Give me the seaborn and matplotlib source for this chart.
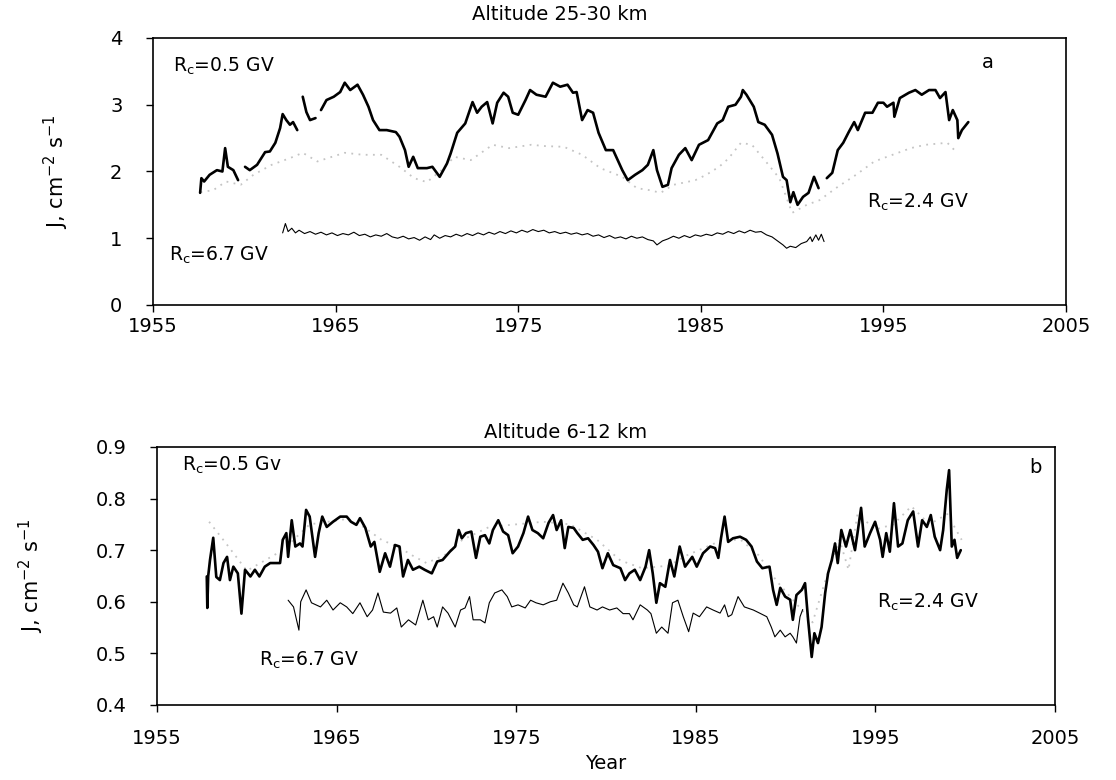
import numpy as np
import pandas as pd
import matplotlib
matplotlib.use("Agg")
import matplotlib.pyplot as plt
import seaborn as sns

nan = np.nan

# ---------------- Panel a: Altitude 25-30 km ----------------
a_hi_year = [1957.58, 1957.65, 1957.8, 1958.1, 1958.5, 1958.8, 1958.95, 1959.1, 1959.4, 1959.66, 1959.85,
             1960.04, 1960.3, 1960.7, 1961.14, 1961.4, 1961.7, 1961.96, 1962.1, 1962.3, 1962.5, 1962.67, 1962.9, 1963.05,
             1963.2, 1963.4, 1963.6, 1963.9, 1964.05,
             1964.2, 1964.5, 1964.9, 1965.25, 1965.5, 1965.8, 1966.2, 1966.5, 1966.8, 1967.05, 1967.4, 1967.8,
             1968.3, 1968.5, 1968.8, 1969.0, 1969.25, 1969.5, 1970.0, 1970.3, 1970.7, 1971.1, 1971.3, 1971.66,
             1972.1, 1972.5, 1972.75, 1973.0, 1973.3, 1973.6, 1973.85, 1974.2, 1974.45, 1974.7, 1975.0, 1975.4,
             1975.65, 1976.0, 1976.5, 1976.9, 1977.3, 1977.7, 1978.0, 1978.2, 1978.5, 1978.8, 1979.1, 1979.4,
             1979.8, 1980.2, 1980.7, 1981.0, 1981.4, 1981.8, 1982.1, 1982.4, 1982.6, 1982.9, 1983.2, 1983.4,
             1983.8, 1984.15, 1984.5, 1984.9, 1985.4, 1985.9, 1986.2, 1986.5, 1986.9, 1987.2, 1987.3, 1987.5,
             1987.9, 1988.15, 1988.5, 1988.9, 1989.2, 1989.5, 1989.7, 1989.9, 1990.07, 1990.3, 1990.6, 1990.9,
             1991.2, 1991.45, 1991.7,
             1991.9, 1992.2, 1992.5, 1992.8, 1993.1, 1993.4, 1993.6, 1994.0, 1994.4, 1994.7, 1995.0, 1995.2,
             1995.55, 1995.6, 1995.9, 1996.4, 1996.75, 1997.1, 1997.5, 1997.85, 1998.1, 1998.4, 1998.6, 1998.8,
             1999.05, 1999.1, 1999.3, 1999.65]
a_hi_val = [1.68, 1.90, 1.85, 1.95, 2.02, 2.00, 2.35, 2.07, 2.02, 1.87, nan,
            2.07, 2.02, 2.10, 2.29, 2.30, 2.43, 2.65, 2.86, 2.77, 2.70, 2.74, 2.62, nan,
            3.12, 2.89, 2.77, 2.80, nan,
            2.92, 3.07, 3.12, 3.19, 3.33, 3.22, 3.30, 3.15, 2.97, 2.77, 2.62, 2.62,
            2.59, 2.52, 2.32, 2.07, 2.22, 2.05, 2.05, 2.07, 1.92, 2.12, 2.27, 2.58,
            2.72, 3.04, 2.88, 2.97, 3.04, 2.72, 3.03, 3.18, 3.12, 2.88, 2.85, 3.07,
            3.22, 3.15, 3.12, 3.33, 3.27, 3.30, 3.18, 3.19, 2.77, 2.92, 2.88, 2.58,
            2.32, 2.32, 2.02, 1.87, 1.95, 2.02, 2.10, 2.32, 2.02, 1.77, 1.80, 2.05,
            2.25, 2.35, 2.17, 2.40, 2.47, 2.72, 2.77, 2.97, 3.00, 3.12, 3.22, 3.15,
            2.97, 2.74, 2.70, 2.55, 2.27, 1.92, 1.87, 1.54, 1.69, 1.50, 1.62, 1.68,
            1.92, 1.75, nan,
            1.90, 1.98, 2.32, 2.43, 2.59, 2.74, 2.62, 2.88, 2.88, 3.03, 3.03, 2.97,
            3.03, 2.82, 3.10, 3.18, 3.22, 3.15, 3.22, 3.22, 3.10, 3.19, 2.77, 2.92,
            2.77, 2.50, 2.62, 2.74]

a_mid_year = [1957.6, 1958.3, 1959.0, 1959.8, 1960.5, 1961.5, 1962.5, 1963.2, 1964.0, 1964.8, 1965.5,
              1966.5, 1967.5, 1968.5, 1969.3, 1970.0, 1970.8, 1971.5, 1972.4, 1973.6, 1974.5, 1975.7,
              1976.5, 1977.5, 1978.5, 1979.5, 1980.7, 1981.5, 1982.2, 1982.8, 1983.5, 1984.7, 1985.3,
              1986.0, 1986.5, 1987.2, 1987.8, 1988.5, 1989.3, 1990.0, 1990.8, 1991.5, 1992.5, 1993.5,
              1994.5, 1995.5, 1996.5, 1997.3, 1998.5, 1999.0]
a_mid_val = [1.69, 1.72, 1.85, 1.80, 1.95, 2.10, 2.20, 2.28, 2.15, 2.22, 2.28,
             2.25, 2.25, 2.07, 1.90, 1.84, 2.02, 2.22, 2.17, 2.40, 2.35, 2.40,
             2.38, 2.37, 2.25, 2.05, 1.92, 1.75, 1.72, 1.68, 1.80, 1.87, 1.95,
             2.07, 2.19, 2.43, 2.40, 2.17, 1.90, 1.38, 1.50, 1.57, 1.77, 1.95,
             2.15, 2.25, 2.35, 2.40, 2.43, 2.29]

a_lo_year = [1962.1, 1962.25, 1962.4, 1962.6, 1962.8, 1963.0, 1963.3, 1963.6, 1963.9, 1964.2, 1964.5,
             1964.8, 1965.1, 1965.4, 1965.7, 1966.0, 1966.3, 1966.6, 1966.9, 1967.2, 1967.5, 1967.8,
             1968.1, 1968.4, 1968.7, 1969.0, 1969.3, 1969.6, 1969.9, 1970.2, 1970.4, 1970.7, 1971.0,
             1971.3, 1971.6, 1971.9, 1972.2, 1972.5, 1972.8, 1973.1, 1973.4, 1973.7, 1974.0, 1974.3,
             1974.6, 1974.9, 1975.2, 1975.5, 1975.8, 1976.1, 1976.4, 1976.7, 1977.0, 1977.3, 1977.6,
             1977.9, 1978.2, 1978.5, 1978.8, 1979.1, 1979.4, 1979.7, 1980.0, 1980.3, 1980.6, 1980.9,
             1981.2, 1981.5, 1981.8, 1982.1, 1982.4, 1982.6, 1982.9, 1983.2, 1983.5, 1983.8, 1984.1,
             1984.4, 1984.7, 1985.0, 1985.3, 1985.6, 1985.9, 1986.2, 1986.5, 1986.8, 1987.1, 1987.4,
             1987.7, 1988.0, 1988.3, 1988.6, 1988.9, 1989.2, 1989.5, 1989.7, 1989.9, 1990.2, 1990.5,
             1990.8, 1991.0, 1991.1, 1991.3, 1991.45, 1991.6, 1991.75]
a_lo_val = [1.08, 1.22, 1.10, 1.15, 1.08, 1.12, 1.07, 1.10, 1.06, 1.09, 1.05,
            1.08, 1.04, 1.07, 1.05, 1.09, 1.04, 1.06, 1.02, 1.05, 1.03, 1.07,
            1.02, 1.00, 1.03, 0.99, 1.01, 0.97, 1.02, 0.98, 1.05, 1.00, 1.04,
            1.02, 1.06, 1.03, 1.07, 1.04, 1.08, 1.05, 1.09, 1.06, 1.10, 1.07,
            1.11, 1.08, 1.12, 1.09, 1.13, 1.10, 1.12, 1.08, 1.10, 1.07, 1.09,
            1.06, 1.08, 1.05, 1.07, 1.03, 1.05, 1.01, 1.04, 1.00, 1.02, 0.99,
            1.03, 1.00, 1.02, 0.98, 0.96, 0.90, 0.96, 0.99, 1.03, 1.00, 1.04,
            1.01, 1.05, 1.03, 1.06, 1.04, 1.08, 1.06, 1.10, 1.07, 1.11, 1.08,
            1.12, 1.09, 1.10, 1.05, 1.02, 0.96, 0.90, 0.85, 0.88, 0.86, 0.92,
            0.95, 1.02, 0.95, 1.05, 0.97, 1.06, 0.95]

# ---------------- Panel b: Altitude 6-12 km ----------------
b_hi_year = [1957.77, 1957.8, 1957.85, 1957.95, 1958.13, 1958.3, 1958.5, 1958.7, 1958.9, 1959.06, 1959.25,
             1959.5, 1959.7, 1959.9, 1960.2, 1960.45, 1960.7, 1961.0, 1961.3, 1961.6, 1961.85, 1962.0,
             1962.2, 1962.3, 1962.5, 1962.7, 1962.96, 1963.1, 1963.3, 1963.5, 1963.7, 1963.8, 1964.0,
             1964.2, 1964.45, 1964.8, 1965.2, 1965.56, 1965.8, 1966.1, 1966.3, 1966.6, 1966.9, 1967.1,
             1967.4, 1967.7, 1967.97, 1968.25, 1968.5, 1968.7, 1968.97, 1969.25, 1969.6, 1969.9, 1970.3,
             1970.6, 1970.9, 1971.3, 1971.6, 1971.8, 1971.97, 1972.2, 1972.5, 1972.76, 1973.0, 1973.26,
             1973.5, 1973.7, 1974.0, 1974.27, 1974.55, 1974.8, 1975.1, 1975.4, 1975.66, 1975.9, 1976.2,
             1976.5, 1976.8, 1977.05, 1977.25, 1977.5, 1977.7, 1977.9, 1978.2, 1978.4, 1978.7, 1979.0,
             1979.3, 1979.55, 1979.8, 1980.1, 1980.4, 1980.8, 1981.06, 1981.3, 1981.6, 1981.9, 1982.2,
             1982.4, 1982.6, 1982.8, 1983.0, 1983.3, 1983.56, 1983.8, 1984.1, 1984.4, 1984.8, 1985.05,
             1985.4, 1985.8, 1986.07, 1986.25, 1986.4, 1986.6, 1986.8, 1987.07, 1987.46, 1987.8, 1988.1,
             1988.4, 1988.7, 1989.1, 1989.3, 1989.5, 1989.7, 1989.97, 1990.25, 1990.4, 1990.6, 1990.9,
             1991.08, 1991.25, 1991.45, 1991.6, 1991.8, 1992.0, 1992.2, 1992.36, 1992.57, 1992.75, 1992.9,
             1993.1, 1993.36, 1993.6, 1993.86, 1994.0, 1994.2, 1994.4, 1994.7, 1994.98, 1995.26, 1995.4,
             1995.6, 1995.8, 1996.03, 1996.26, 1996.5, 1996.8, 1997.1, 1997.37, 1997.6, 1997.86, 1998.08,
             1998.3, 1998.6, 1998.77, 1998.97, 1999.1, 1999.25, 1999.4, 1999.55, 1999.75]
b_hi_val = [0.649, 0.588, 0.650, 0.681, 0.724, 0.648, 0.642, 0.675, 0.687, 0.642, 0.668,
            0.655, 0.577, 0.662, 0.649, 0.662, 0.649, 0.668, 0.675, 0.675, 0.675, 0.720,
            0.733, 0.687, 0.758, 0.707, 0.713, 0.707, 0.778, 0.765, 0.713, 0.687, 0.733,
            0.765, 0.745, 0.755, 0.765, 0.765, 0.755, 0.749, 0.762, 0.743, 0.707, 0.716,
            0.658, 0.694, 0.668, 0.710, 0.707, 0.649, 0.681, 0.662, 0.668, 0.662, 0.655,
            0.678, 0.681, 0.697, 0.707, 0.739, 0.723, 0.733, 0.736, 0.685, 0.726, 0.729,
            0.713, 0.739, 0.758, 0.736, 0.729, 0.694, 0.707, 0.733, 0.765, 0.739, 0.733,
            0.723, 0.753, 0.768, 0.739, 0.758, 0.704, 0.745, 0.743, 0.733, 0.720, 0.723,
            0.710, 0.697, 0.665, 0.694, 0.671, 0.665, 0.642, 0.655, 0.662, 0.642, 0.668,
            0.700, 0.655, 0.598, 0.636, 0.629, 0.681, 0.649, 0.707, 0.668, 0.687, 0.668,
            0.694, 0.707, 0.704, 0.685, 0.723, 0.765, 0.716, 0.723, 0.726, 0.720, 0.707,
            0.678, 0.665, 0.668, 0.623, 0.594, 0.627, 0.610, 0.604, 0.565, 0.613, 0.623,
            0.636, 0.565, 0.493, 0.539, 0.520, 0.551, 0.617, 0.655, 0.681, 0.713, 0.675,
            0.739, 0.707, 0.739, 0.700, 0.733, 0.782, 0.707, 0.733, 0.755, 0.720, 0.687,
            0.733, 0.697, 0.791, 0.707, 0.713, 0.758, 0.775, 0.707, 0.758, 0.745, 0.768,
            0.726, 0.700, 0.739, 0.817, 0.855, 0.707, 0.720, 0.685, 0.700]

b_mid_year = [1957.9, 1958.8, 1960.0, 1962.0, 1963.5, 1965.5, 1966.5, 1967.5, 1968.5, 1969.2, 1970.0,
              1971.0, 1972.0, 1973.5, 1975.0, 1976.5, 1978.0, 1979.5, 1980.8, 1982.0, 1983.5, 1984.5,
              1985.5, 1986.5, 1987.5, 1988.5, 1989.5, 1990.5, 1991.5, 1992.2, 1993.0, 1993.5, 1994.0,
              1995.0, 1996.0, 1997.0, 1998.0, 1999.0, 1999.8]
b_mid_val = [0.755, 0.715, 0.660, 0.700, 0.750, 0.760, 0.745, 0.720, 0.705, 0.690, 0.675,
             0.690, 0.720, 0.745, 0.750, 0.755, 0.750, 0.720, 0.680, 0.665, 0.670, 0.690,
             0.705, 0.720, 0.720, 0.690, 0.640, 0.600, 0.560, 0.640, 0.720, 0.662, 0.770,
             0.740, 0.750, 0.785, 0.750, 0.770, 0.720]

b_lo_year = [1962.3, 1962.6, 1962.9, 1963.0, 1963.3, 1963.6, 1964.1, 1964.45, 1964.8, 1965.2, 1965.56,
             1965.9, 1966.3, 1966.7, 1967.0, 1967.3, 1967.6, 1968.0, 1968.35, 1968.6, 1969.0, 1969.4,
             1969.8, 1970.1, 1970.4, 1970.6, 1970.9, 1971.2, 1971.6, 1971.9, 1972.15, 1972.4, 1972.6,
             1973.0, 1973.26, 1973.5, 1973.8, 1974.2, 1974.5, 1974.75, 1975.1, 1975.5, 1975.8, 1976.1,
             1976.5, 1976.9, 1977.25, 1977.6, 1977.9, 1978.2, 1978.4, 1978.8, 1979.1, 1979.5, 1979.8,
             1980.2, 1980.6, 1980.95, 1981.3, 1981.5, 1981.9, 1982.3, 1982.5, 1982.8, 1983.1, 1983.45,
             1983.7, 1984.0, 1984.3, 1984.6, 1984.85, 1985.2, 1985.6, 1985.96, 1986.35, 1986.6, 1986.8,
             1987.0, 1987.35, 1987.7, 1988.2, 1988.55, 1988.95, 1989.2, 1989.4, 1989.7, 1989.97, 1990.25,
             1990.4, 1990.6, 1990.8, 1990.95]
b_lo_val = [0.603, 0.590, 0.545, 0.600, 0.623, 0.598, 0.590, 0.603, 0.584, 0.598, 0.590,
            0.577, 0.598, 0.571, 0.584, 0.617, 0.580, 0.578, 0.588, 0.551, 0.565, 0.555,
            0.603, 0.565, 0.571, 0.551, 0.590, 0.578, 0.551, 0.584, 0.588, 0.610, 0.565,
            0.565, 0.559, 0.598, 0.617, 0.623, 0.610, 0.590, 0.594, 0.588, 0.603, 0.598,
            0.594, 0.600, 0.603, 0.636, 0.617, 0.594, 0.590, 0.629, 0.590, 0.584, 0.590,
            0.584, 0.588, 0.577, 0.577, 0.565, 0.594, 0.584, 0.577, 0.539, 0.551, 0.539,
            0.598, 0.603, 0.571, 0.542, 0.578, 0.571, 0.590, 0.584, 0.578, 0.594, 0.571,
            0.575, 0.610, 0.590, 0.584, 0.578, 0.571, 0.551, 0.532, 0.545, 0.532, 0.539,
            0.532, 0.520, 0.571, 0.585]

year_ticks = [1955, 1965, 1975, 1985, 1995, 2005]
a_yticks = [0, 1, 2, 3, 4]
b_yticks = [0.4, 0.5, 0.6, 0.7, 0.8, 0.9]


def frame(years, vals):
    df = pd.DataFrame({"year": years, "val": vals})
    df["seg"] = df["val"].isna().cumsum()
    return df.dropna()


sns.set_theme(style="ticks")
plt.rcParams["font.family"] = ["DejaVu Sans"]
plt.rcParams["mathtext.fontset"] = "dejavusans"
plt.rcParams["text.color"] = "black"
plt.rcParams["axes.labelcolor"] = "black"
plt.rcParams["xtick.color"] = "black"
plt.rcParams["ytick.color"] = "black"

fig = plt.figure(figsize=(11.16, 7.8), dpi=100)
ax1 = fig.add_axes([0.1371, 0.6090, 0.8181, 0.3423])
ax2 = fig.add_axes([0.1407, 0.0962, 0.8047, 0.3308])

styles = {
    "hi": dict(color="black", linewidth=1.9),
    "mid": dict(color="#c4c4c4", linewidth=1.3, linestyle=(0, (1, 3))),
    "lo": dict(color="black", linewidth=0.8),
}

for ax, series in [
    (ax1, [("mid", a_mid_year, a_mid_val), ("lo", a_lo_year, a_lo_val), ("hi", a_hi_year, a_hi_val)]),
    (ax2, [("mid", b_mid_year, b_mid_val), ("lo", b_lo_year, b_lo_val), ("hi", b_hi_year, b_hi_val)]),
]:
    for key, yr, vl in series:
        df = frame(yr, vl)
        sns.lineplot(data=df, x="year", y="val", units="seg", estimator=None, sort=False,
                     ax=ax, legend=False, **styles[key])

ax1.set_xlim(1955, 2005)
ax1.set_ylim(0, 4)
ax1.set_yticks(a_yticks)
ax1.set_yticklabels([str(v) for v in a_yticks])
ax2.set_xlim(1955, 2005)
ax2.set_ylim(0.4, 0.9)
ax2.set_yticks(b_yticks)
ax2.set_yticklabels([f"{v:.1f}" for v in b_yticks])

for ax in (ax1, ax2):
    ax.set_xticks(year_ticks)
    ax.set_xticklabels([str(y) for y in year_ticks])
    for s in ax.spines.values():
        s.set_visible(True)
        s.set_linewidth(1.2)
        s.set_color("black")
    ax.tick_params(axis="both", direction="out", length=5, width=1.0, colors="black",
                   labelsize=14, top=False, right=False)
    ax.tick_params(axis="y", pad=17)
    ax.set_xlabel("")
    ax.set_ylabel(r"J, cm$^{-2}$ s$^{-1}$", fontsize=15, color="black")

ax1.tick_params(axis="x", pad=4)
ax2.tick_params(axis="x", pad=12)
ax1.yaxis.set_label_coords(-0.090, 0.5)
ax2.yaxis.set_label_coords(-0.124, 0.5)

ax2.set_xlabel("Year", fontsize=14, color="black")
ax2.xaxis.set_label_coords(0.50, -0.19)

fig.text(560 / 1116, 1 - 15 / 780, "Altitude 25-30 km", ha="center", va="center", fontsize=14, color="black")
fig.text(566 / 1116, 1 - 432 / 780, "Altitude 6-12 km", ha="center", va="center", fontsize=14, color="black")

tk = dict(fontsize=13.5, va="center", ha="left", color="black")
ax1.text(1956.1, 3.57, r"R$_{\rm c}$=0.5 GV", **tk)
ax1.text(1994.1, 1.54, r"R$_{\rm c}$=2.4 GV", **tk)
ax1.text(1955.9, 0.75, r"R$_{\rm c}$=6.7 GV", **tk)
ax1.text(2000.7, 3.63, "a", fontsize=14, va="center", ha="center", color="black")

ax2.text(1956.4, 0.865, r"R$_{\rm c}$=0.5 Gv", **tk)
ax2.text(1995.1, 0.598, r"R$_{\rm c}$=2.4 GV", **tk)
ax2.text(1960.7, 0.487, r"R$_{\rm c}$=6.7 GV", **tk)
ax2.text(2003.9, 0.861, "b", fontsize=14, va="center", ha="center", color="black")

fig.savefig("out.png", dpi=100)
